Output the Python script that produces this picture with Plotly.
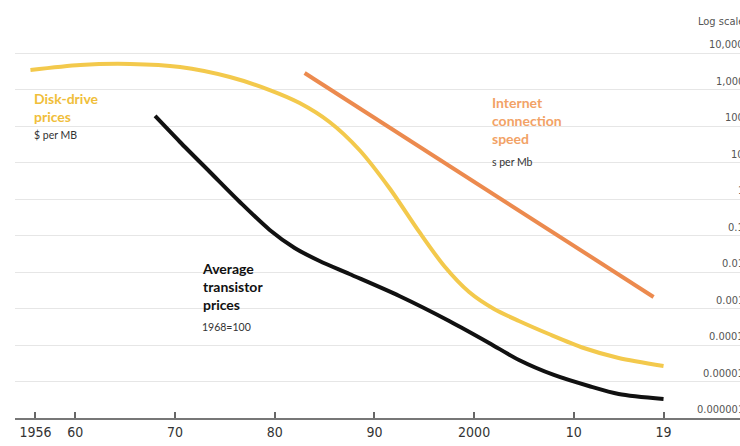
import math
import plotly.graph_objects as go

# Disk-drive prices, $ per MB
disk_years = [1955.5, 1960.5, 1965.5, 1970.5, 1975.5, 1979.5, 1982.5, 1985.5, 1988.5, 1991.5,
              1994.5, 1997, 1999.5, 2002, 2004.5, 2007.5, 2011, 2014.5, 2019]
disk_values = [3420, 4690, 5000, 4130, 2200, 968, 427, 129, 22.0, 2.0,
               0.125, 0.0146, 0.00283, 0.00097, 0.000455, 0.0002, 0.0000828, 0.0000441, 0.0000266]

# Average transistor prices, 1968=100
trans_years = [1968, 1970.5, 1973.5, 1976.5, 1979.5, 1982, 1984.5, 1987.5, 1992.5, 1997.5,
               2001.5, 2004.5, 2008, 2011.5, 2014.5, 2019]
trans_values = [188, 36.5, 5.5, 0.83, 0.142, 0.0455, 0.020, 0.0088, 0.0022, 0.000455,
                0.000114, 3.88e-5, 1.51e-5, 7.53e-6, 4.55e-6, 3.32e-6]

# Internet connection speed, s per Mb
net_years = [1983, 2018]
net_values = [2830, 0.00207]

x_tickvals = [1956, 1960, 1970, 1980, 1990, 2000, 2010, 2019]
x_ticktext = ["1956", "60", "70", "80", "90", "2000", "10", "19"]

y_tickvals = [1e4, 1e3, 1e2, 1e1, 1, 0.1, 0.01, 0.001, 0.0001, 0.00001, 0.000001]
y_ticktext = ["10,000", "1,000", "100", "10", "1", "0.1", "0.01", "0.001", "0.0001",
              "0.00001", "0.000001"]

YELLOW = "#f3c94c"
ORANGE = "#ec8a4e"
BLACK = "#111111"
NUM_FONT = "Liberation Sans Narrow, DejaVu Sans Condensed, Arial Narrow, sans-serif"
LABEL_FONT = "Lato, Open Sans, sans-serif"

fig = go.Figure()
fig.add_trace(go.Scatter(x=disk_years, y=disk_values, mode="lines",
                         line=dict(color=YELLOW, width=4, shape="spline", smoothing=0.8),
                         hoverinfo="skip"))
fig.add_trace(go.Scatter(x=net_years, y=net_values, mode="lines",
                         line=dict(color=ORANGE, width=4), hoverinfo="skip"))
fig.add_trace(go.Scatter(x=trans_years, y=trans_values, mode="lines",
                         line=dict(color=BLACK, width=4, shape="spline", smoothing=0.8),
                         hoverinfo="skip"))

annotations = []
# right-hand log-scale labels sitting just above each gridline
for v, t in zip(y_tickvals, y_ticktext):
    annotations.append(dict(x=1.008, xref="paper", y=math.log10(v), yref="y",
                            text=t, showarrow=False, xanchor="right", yanchor="bottom",
                            yshift=0, font=dict(family=NUM_FONT, size=11, color="#555")))
annotations.append(dict(x=1.008, xref="paper", y=1.0, yref="paper", yshift=-21,
                        text="Log scale", showarrow=False, xanchor="right", yanchor="middle",
                        font=dict(family=NUM_FONT, size=11, color="#555")))


def px_to_value(py):
    # pixel row -> value on the log axis (10,000 gridline at row 53, 36.5 px per decade)
    return 10 ** (4 - (py - 53) / 36.5)


def label(x, py, text, color, size, bold=True):
    return dict(x=x, xref="x", y=math.log10(px_to_value(py)), yref="y",
                text=f"<b>{text}</b>" if bold else text,
                showarrow=False, xanchor="left", yanchor="top", align="left",
                font=dict(family=LABEL_FONT, size=size, color=color))


annotations += [
    label(1955.7, 88, "Disk-drive<br>prices", "#f0be3a", 14),
    label(1955.7, 127, "$ per MB", "#333", 10.5, bold=False),
    label(2001.6, 92, "Internet<br>connection<br>speed", "#f2a266", 14),
    label(2001.6, 154, "s per Mb", "#333", 10.5, bold=False),
    label(1972.5, 258, "Average<br>transistor<br>prices", "#111", 14),
    label(1972.5, 319, "1968=100", "#333", 10.5, bold=False),
]

fig.update_layout(
    width=740, height=446,
    margin=dict(l=0, r=0, t=0, b=0),
    paper_bgcolor="white", plot_bgcolor="white",
    showlegend=False,
    annotations=annotations,
    xaxis=dict(domain=[15 / 740, 1], range=[1953.95, 2026.67],
               showgrid=False, zeroline=False,
               showline=True, linecolor="#777", linewidth=2,
               ticks="inside", ticklen=6, tickwidth=1.5, tickcolor="#666",
               tickvals=x_tickvals, ticktext=x_ticktext,
               tickfont=dict(family=NUM_FONT, size=14, color="#333")),
    yaxis=dict(type="log", domain=[28 / 446, 1], range=[-6, 4 + 53 / 36.5],
               tickvals=y_tickvals, showticklabels=False,
               showgrid=True, gridcolor="#e6e6e6", gridwidth=1,
               zeroline=False, showline=False, ticks=""),
)

fig.write_html("out.html")
